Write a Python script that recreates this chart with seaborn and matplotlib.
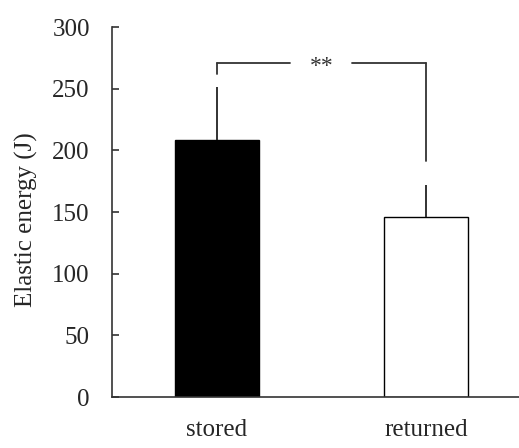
import matplotlib
matplotlib.use("Agg")
import matplotlib.pyplot as plt
import seaborn as sns
import pandas as pd

categories = ["stored", "returned"]
means = [208, 146]
errors = [43, 26]
bar_colors = ["#000000", "#ffffff"]
sig_label = "**"
bracket_y = 271
bracket_left_low = 262
bracket_right_low = 191
y_ticks = [0, 50, 100, 150, 200, 250, 300]

sns.set_theme(style="white")
plt.rcParams["font.family"] = ["Liberation Serif", "DejaVu Serif"]

df = pd.DataFrame({"cond": categories, "val": means})

fig = plt.figure(figsize=(5.19, 4.48), dpi=100)
ax = fig.add_axes([0.2158, 0.1138, 0.7842, 0.8259])

sns.barplot(data=df, x="cond", y="val", hue="cond", palette=bar_colors,
            width=0.4, edgecolor="black", linewidth=1.0, errorbar=None,
            legend=False, ax=ax)

x = list(range(len(categories)))
ax.errorbar(x, means, yerr=[[0] * len(errors), errors], fmt="none",
            ecolor="#222222", elinewidth=1.3, capsize=0)

# significance bracket
ax.plot([0, 0], [bracket_left_low, bracket_y], color="#333333", lw=1.3)
ax.plot([0, 0.35], [bracket_y, bracket_y], color="#333333", lw=1.3)
ax.plot([0.645, 1], [bracket_y, bracket_y], color="#333333", lw=1.3)
ax.plot([1, 1], [bracket_y, bracket_right_low], color="#333333", lw=1.3)
ax.text(0.5, bracket_y - 3, sig_label, ha="center", va="center", fontsize=17,
        color="#333333")

ax.set_xlim(-0.5, 1.444)
ax.set_ylim(0, 300)
ax.set_yticks(y_ticks)
ax.set_xlabel("")
ax.set_ylabel("Elastic energy (J)", fontsize=18)
ax.yaxis.set_label_coords(-0.182, 0.48)

for s in ["top", "right"]:
    ax.spines[s].set_visible(False)
for s in ["left", "bottom"]:
    ax.spines[s].set_color("#333333")
    ax.spines[s].set_linewidth(1.2)

ax.tick_params(axis="y", direction="in", length=5, width=1.2, color="#333333",
               labelsize=18, pad=16, left=True)
ax.tick_params(axis="x", length=0, labelsize=18, pad=15.5)

fig.savefig("out.png", dpi=100)
